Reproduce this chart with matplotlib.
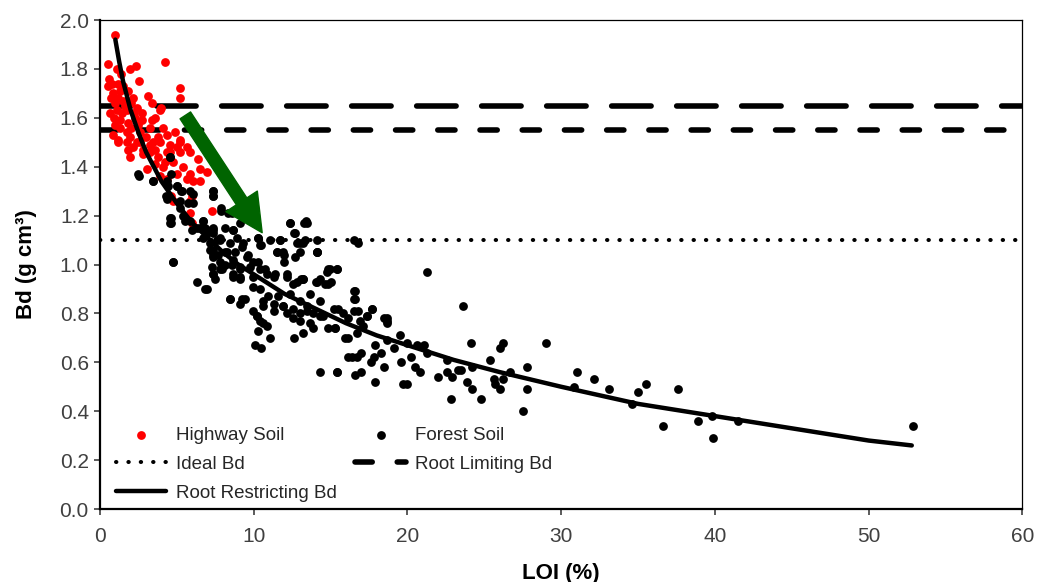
import matplotlib
matplotlib.use("Agg")
import matplotlib.pyplot as plt
from matplotlib.patches import FancyArrowPatch

plt.rcParams['font.family'] = ['Liberation Sans', 'DejaVu Sans']

# ---- data ----
highway_loi = [0.98, 0.52, 4.23, 1.1, 1.95, 2.34, 2.55, 0.52, 0.78, 1.17, 1.5, 5.2, 0.85, 1.3, 1.8,
               5.2, 3.1, 0.98, 1.5, 2.15, 3.4, 4.0, 1.1, 1.43, 1.75, 2.4, 2.73, 3.9, 1.3, 1.8,
               2.3, 2.73, 3.38, 3.58, 1.3, 1.75, 2.6, 3.25, 4.1, 0.85, 1.17, 1.95, 2.4, 3.8, 4.36,
               4.9, 5.2, 3.25, 3.9, 4.55, 5.0, 5.65, 4.36, 2.8, 2.15, 1.8, 1.17, 1.75, 2.6, 3.45,
               5.2, 1.95, 2.8, 3.25, 3.8, 4.55, 5.2, 5.85, 6.4, 3.05, 3.58, 4.1, 4.75, 5.4, 6.5,
               6.95, 3.9, 5.0, 5.65, 6.05, 6.5, 5.85, 4.35, 4.65, 6.0, 4.75, 5.85, 7.3, 5.85, 6.0,
               0.6, 0.7, 0.9, 1.0, 1.2, 1.4, 1.6, 2.0, 2.2, 2.5, 3.0, 3.6, 4.2, 2.0, 0.65]
highway_bd = [1.94, 1.82, 1.83, 1.80, 1.80, 1.81, 1.75, 1.73, 1.74, 1.74, 1.73, 1.72, 1.70, 1.71, 1.71,
              1.68, 1.69, 1.66, 1.67, 1.68, 1.66, 1.64, 1.63, 1.62, 1.63, 1.64, 1.62, 1.63, 1.59, 1.58,
              1.60, 1.59, 1.59, 1.60, 1.56, 1.54, 1.54, 1.56, 1.56, 1.53, 1.51, 1.52, 1.50, 1.52, 1.53,
              1.54, 1.51, 1.49, 1.50, 1.49, 1.48, 1.48, 1.46, 1.47, 1.48, 1.47, 1.50, 1.50, 1.50, 1.50,
              1.50, 1.44, 1.45, 1.46, 1.44, 1.46, 1.46, 1.46, 1.43, 1.39, 1.41, 1.40, 1.42, 1.40, 1.39,
              1.38, 1.36, 1.37, 1.35, 1.34, 1.34, 1.37, 1.35, 1.28, 1.28, 1.26, 1.26, 1.22, 1.21, 1.17,
              1.76, 1.68, 1.60, 1.57, 1.68, 1.78, 1.65, 1.56, 1.62, 1.57, 1.52, 1.47, 1.42, 1.66, 1.62]

forest_loi = [2.55, 3.45, 4.55, 4.65, 4.3, 5.0, 5.3, 7.35, 7.35, 7.9, 8.35, 4.65, 4.65, 5.5, 6.0,
              6.5, 6.95, 7.35, 7.8, 8.65, 8.9, 9.1, 10.3, 10.4, 4.75, 7.15, 7.35, 7.8, 8.25, 8.65,
              9.1, 9.55, 9.95, 7.35, 8.65, 9.1, 9.95, 10.4, 10.85, 11.3, 11.5, 11.9, 11.7, 12.35, 13.3,
              12.6, 13.0, 12.7, 14.1, 12.15, 12.55, 13.1, 14.3, 14.85, 15.4, 14.85, 6.3, 6.95,
              8.45, 9.1, 9.45, 9.95, 10.2, 10.6, 10.3, 11.05, 10.1, 10.5, 12.6, 13.2, 14.3, 15.4,
              10.6, 11.3, 11.9, 12.15, 12.55, 13.0, 13.45, 13.85, 14.3, 13.85, 14.85, 15.3, 15.8, 15.95, 16.15,
              13.4, 16.8, 16.5, 13.2, 14.1, 14.95, 15.4, 13.2, 14.05, 14.65, 15.0, 21.3, 16.6, 16.6,
              17.7, 16.5, 16.8, 17.4, 18.7, 18.7,
              23.6, 16.5, 16.5, 17.7, 15.2, 15.5, 17.4, 18.5, 18.7, 16.1, 16.9, 17.1, 15.3, 16.7, 16.1,
              18.7, 19.5, 19.1, 20.0, 20.6, 21.1, 21.3, 24.1, 29.0, 26.2, 26.0, 17.9, 18.3, 17.0, 16.7,
              16.4, 17.8, 17.6, 19.6, 20.2, 18.5, 20.5, 20.8, 22.6, 24.2, 25.4, 26.7, 27.8, 15.4, 16.6,
              17.0, 17.9, 19.7, 20.0, 22.0, 22.6, 22.9, 23.3, 23.5, 23.9, 24.2, 24.8, 22.8, 25.6, 25.7,
              26.0, 26.2, 27.8, 27.5, 30.8, 31.0, 32.1, 33.1, 34.6, 35.0, 35.5, 36.6, 37.6,
              38.9, 39.8, 39.9, 41.5, 52.9,
              7.9, 8.6, 6.7, 12.35, 13.45, 6.8, 7.35, 8.1, 8.65, 10.3, 11.05, 11.7, 12.7, 12.8, 13.35,
              14.1, 10.5, 7.15, 7.8, 8.45, 9.3, 9.25, 7.35, 8.15, 8.8, 9.65, 10.3, 11.5, 12.0, 12.0,
              13.0, 14.1, 7.3, 7.8, 8.6, 9.1, 9.75, 10.75, 11.4, 12.15, 12.8, 13.2, 14.1, 14.75, 7.35,
              7.5, 8.65, 9.1, 6.8, 8.45, 9.25, 9.95, 10.4, 10.95, 11.6, 12.35, 13.0, 13.65, 14.3,
              10.6, 11.3, 11.9, 12.55, 13.45, 10.2, 10.4, 10.85, 13.0, 13.65, 14.5,
              4.55, 2.5, 3.45, 4.36, 4.4, 5.0, 5.35, 5.85, 6.05, 4.36, 5.2, 5.7, 6.05, 7.35, 7.35,
              5.2, 4.55, 4.55, 5.4, 5.85, 6.7, 6.3, 6.95, 7.35, 6.7, 7.6, 7.35, 7.7, 4.75, 8.15, 7.95]
forest_bd = [1.36, 1.34, 1.44, 1.37, 1.28, 1.32, 1.30, 1.30, 1.28, 1.22, 1.21, 1.19, 1.17, 1.18, 1.14,
             1.15, 1.13, 1.14, 1.11, 1.14, 1.11, 1.17, 1.11, 1.08, 1.01, 1.06, 1.03, 1.01, 1.05, 1.02,
             0.99, 1.03, 1.01, 0.96, 0.95, 0.95, 0.95, 0.98, 0.96, 0.95, 1.05, 1.05, 1.10, 1.17, 1.17,
             1.13, 1.09, 1.03, 1.05, 0.95, 0.92, 0.94, 0.94, 0.98, 0.98, 0.92, 0.93, 0.90,
             0.86, 0.84, 0.86, 0.81, 0.79, 0.76, 0.73, 0.70, 0.67, 0.66, 0.70, 0.72, 0.56, 0.56,
             0.85, 0.84, 0.83, 0.80, 0.78, 0.80, 0.83, 0.80, 0.79, 0.74, 0.74, 0.74, 0.80, 0.70, 0.62,
             1.18, 1.09, 1.10, 1.09, 1.05, 0.98, 0.98, 0.94, 0.93, 0.92, 0.93, 0.97, 0.89, 0.86,
             0.82, 0.81, 0.81, 0.79, 0.78, 0.76,
             0.83, 0.89, 0.86, 0.82, 0.82, 0.82, 0.79, 0.78, 0.77, 0.78, 0.77, 0.75, 0.74, 0.72, 0.70,
             0.69, 0.71, 0.66, 0.68, 0.67, 0.67, 0.64, 0.68, 0.68, 0.68, 0.66, 0.67, 0.64, 0.64, 0.62,
             0.62, 0.62, 0.60, 0.60, 0.62, 0.58, 0.58, 0.56, 0.61, 0.58, 0.61, 0.56, 0.58, 0.56, 0.55,
             0.56, 0.52, 0.51, 0.51, 0.54, 0.56, 0.54, 0.57, 0.57, 0.52, 0.49, 0.45, 0.45, 0.53, 0.51,
             0.49, 0.53, 0.49, 0.40, 0.50, 0.56, 0.53, 0.49, 0.43, 0.48, 0.51, 0.34, 0.49,
             0.36, 0.38, 0.29, 0.36, 0.34,
             1.23, 1.21, 1.18, 1.17, 1.17, 1.15, 1.13, 1.15, 1.14, 1.11, 1.10, 1.10, 1.13, 1.09, 1.10,
             1.10, 1.08, 1.09, 1.10, 1.09, 1.09, 1.07, 1.04, 1.05, 1.05, 1.04, 1.01, 1.05, 1.04, 1.01,
             1.05, 1.05, 0.99, 0.98, 1.00, 0.98, 0.99, 0.98, 0.96, 0.96, 0.93, 0.94, 0.93, 0.97, 0.96,
             0.94, 0.96, 0.94, 0.90, 0.86, 0.86, 0.91, 0.90, 0.87, 0.87, 0.88, 0.85, 0.88, 0.85,
             0.83, 0.81, 0.83, 0.82, 0.81, 0.79, 0.77, 0.75, 0.77, 0.76, 0.79,
             1.44, 1.37, 1.34, 1.34, 1.32, 1.32, 1.30, 1.30, 1.29, 1.27, 1.26, 1.25, 1.25, 1.30, 1.28,
             1.23, 1.19, 1.17, 1.20, 1.18, 1.18, 1.15, 1.14, 1.15, 1.11, 1.10, 1.06, 1.04, 1.01, 1.00, 0.98]

curve_loi = [1.0, 1.25, 1.5, 1.75, 2.0, 2.5, 3.0, 3.5, 4.0, 5.0, 6.0, 7.0, 8.0, 9.0, 10.0, 12.0,
             14.0, 16.0, 18.0, 20.0, 23.0, 26.0, 30.0, 35.0, 40.0, 45.0, 50.0, 52.8]
curve_bd = [1.92, 1.83, 1.75, 1.69, 1.63, 1.54, 1.46, 1.40, 1.34, 1.25, 1.17, 1.11, 1.05, 1.00, 0.96, 0.88,
            0.82, 0.76, 0.71, 0.67, 0.61, 0.56, 0.50, 0.43, 0.38, 0.33, 0.28, 0.26]

ideal_bd = 1.10
root_limiting_bd = [1.65, 1.55]
arrow_start = (5.55, 1.61)
arrow_end = (10.55, 1.13)

x_ticks = [0, 10, 20, 30, 40, 50, 60]
y_ticks = [0.0, 0.2, 0.4, 0.6, 0.8, 1.0, 1.2, 1.4, 1.6, 1.8, 2.0]

# ---- figure ----
fig = plt.figure(figsize=(10.37, 5.82), dpi=100)
ax = fig.add_axes([0.0964, 0.1254, 0.8896, 0.8402])

h_hw = ax.scatter(highway_loi, highway_bd, s=40, color='#ff0000', linewidths=0, zorder=3,
                  label='Highway Soil')
h_fs = ax.scatter(forest_loi, forest_bd, s=40, color='black', linewidths=0, zorder=3,
                  label='Forest Soil')

h_ideal, = ax.plot([0, 60], [ideal_bd, ideal_bd], color='black', lw=2.9,
                   linestyle=(0, (0.1, 2.97)), dash_capstyle='round', label='Ideal Bd', zorder=2)
ax.plot([0, 60], [root_limiting_bd[0]] * 2, color='black', lw=4.0,
        linestyle=(1.5, (7.1, 4.6)), dash_capstyle='round', zorder=2)
h_lim, = ax.plot([0, 60], [root_limiting_bd[1]] * 2, color='black', lw=4.0,
                 linestyle=(0, (3.1, 4.5)), dash_capstyle='round', label='Root Limiting Bd', zorder=2)
h_curve, = ax.plot(curve_loi, curve_bd, color='black', lw=3.2, solid_capstyle='round',
                   label='Root Restricting Bd', zorder=4)

arrow = FancyArrowPatch(arrow_start, arrow_end,
                        arrowstyle='simple,head_length=27,head_width=27,tail_width=9',
                        mutation_scale=1, color='#006400', zorder=5, shrinkA=0, shrinkB=0)
ax.add_patch(arrow)

ax.set_xlim(0, 60)
ax.set_ylim(0, 2.0)
ax.set_xticks(x_ticks)
ax.set_yticks(y_ticks)
ax.set_yticklabels([f'{v:.1f}' for v in y_ticks])
ax.tick_params(axis='both', direction='out', length=4, width=1.2, labelsize=15,
               labelcolor='#404040', color='#404040', pad=4)
ax.tick_params(axis='x', pad=9)

for side in ['left', 'bottom']:
    ax.spines[side].set_linewidth(1.6)
for side in ['top', 'right']:
    ax.spines[side].set_linewidth(0.9)

ax.set_xlabel('LOI (%)', fontsize=16, fontweight='bold', labelpad=12)
ax.set_ylabel('Bd (g cm³)', fontsize=16, fontweight='bold', labelpad=16)

leg = ax.legend(handles=[h_hw, h_ideal, h_curve, h_fs, h_lim], ncol=2, loc='lower left',
                bbox_to_anchor=(0.009, 0.0), borderaxespad=0.0, frameon=False, fontsize=13.5,
                handlelength=2.7, handletextpad=0.5, columnspacing=1.0, labelspacing=0.61,
                scatterpoints=1)
for t in leg.get_texts():
    t.set_color('#262626')

fig.savefig('out.png', dpi=100)
